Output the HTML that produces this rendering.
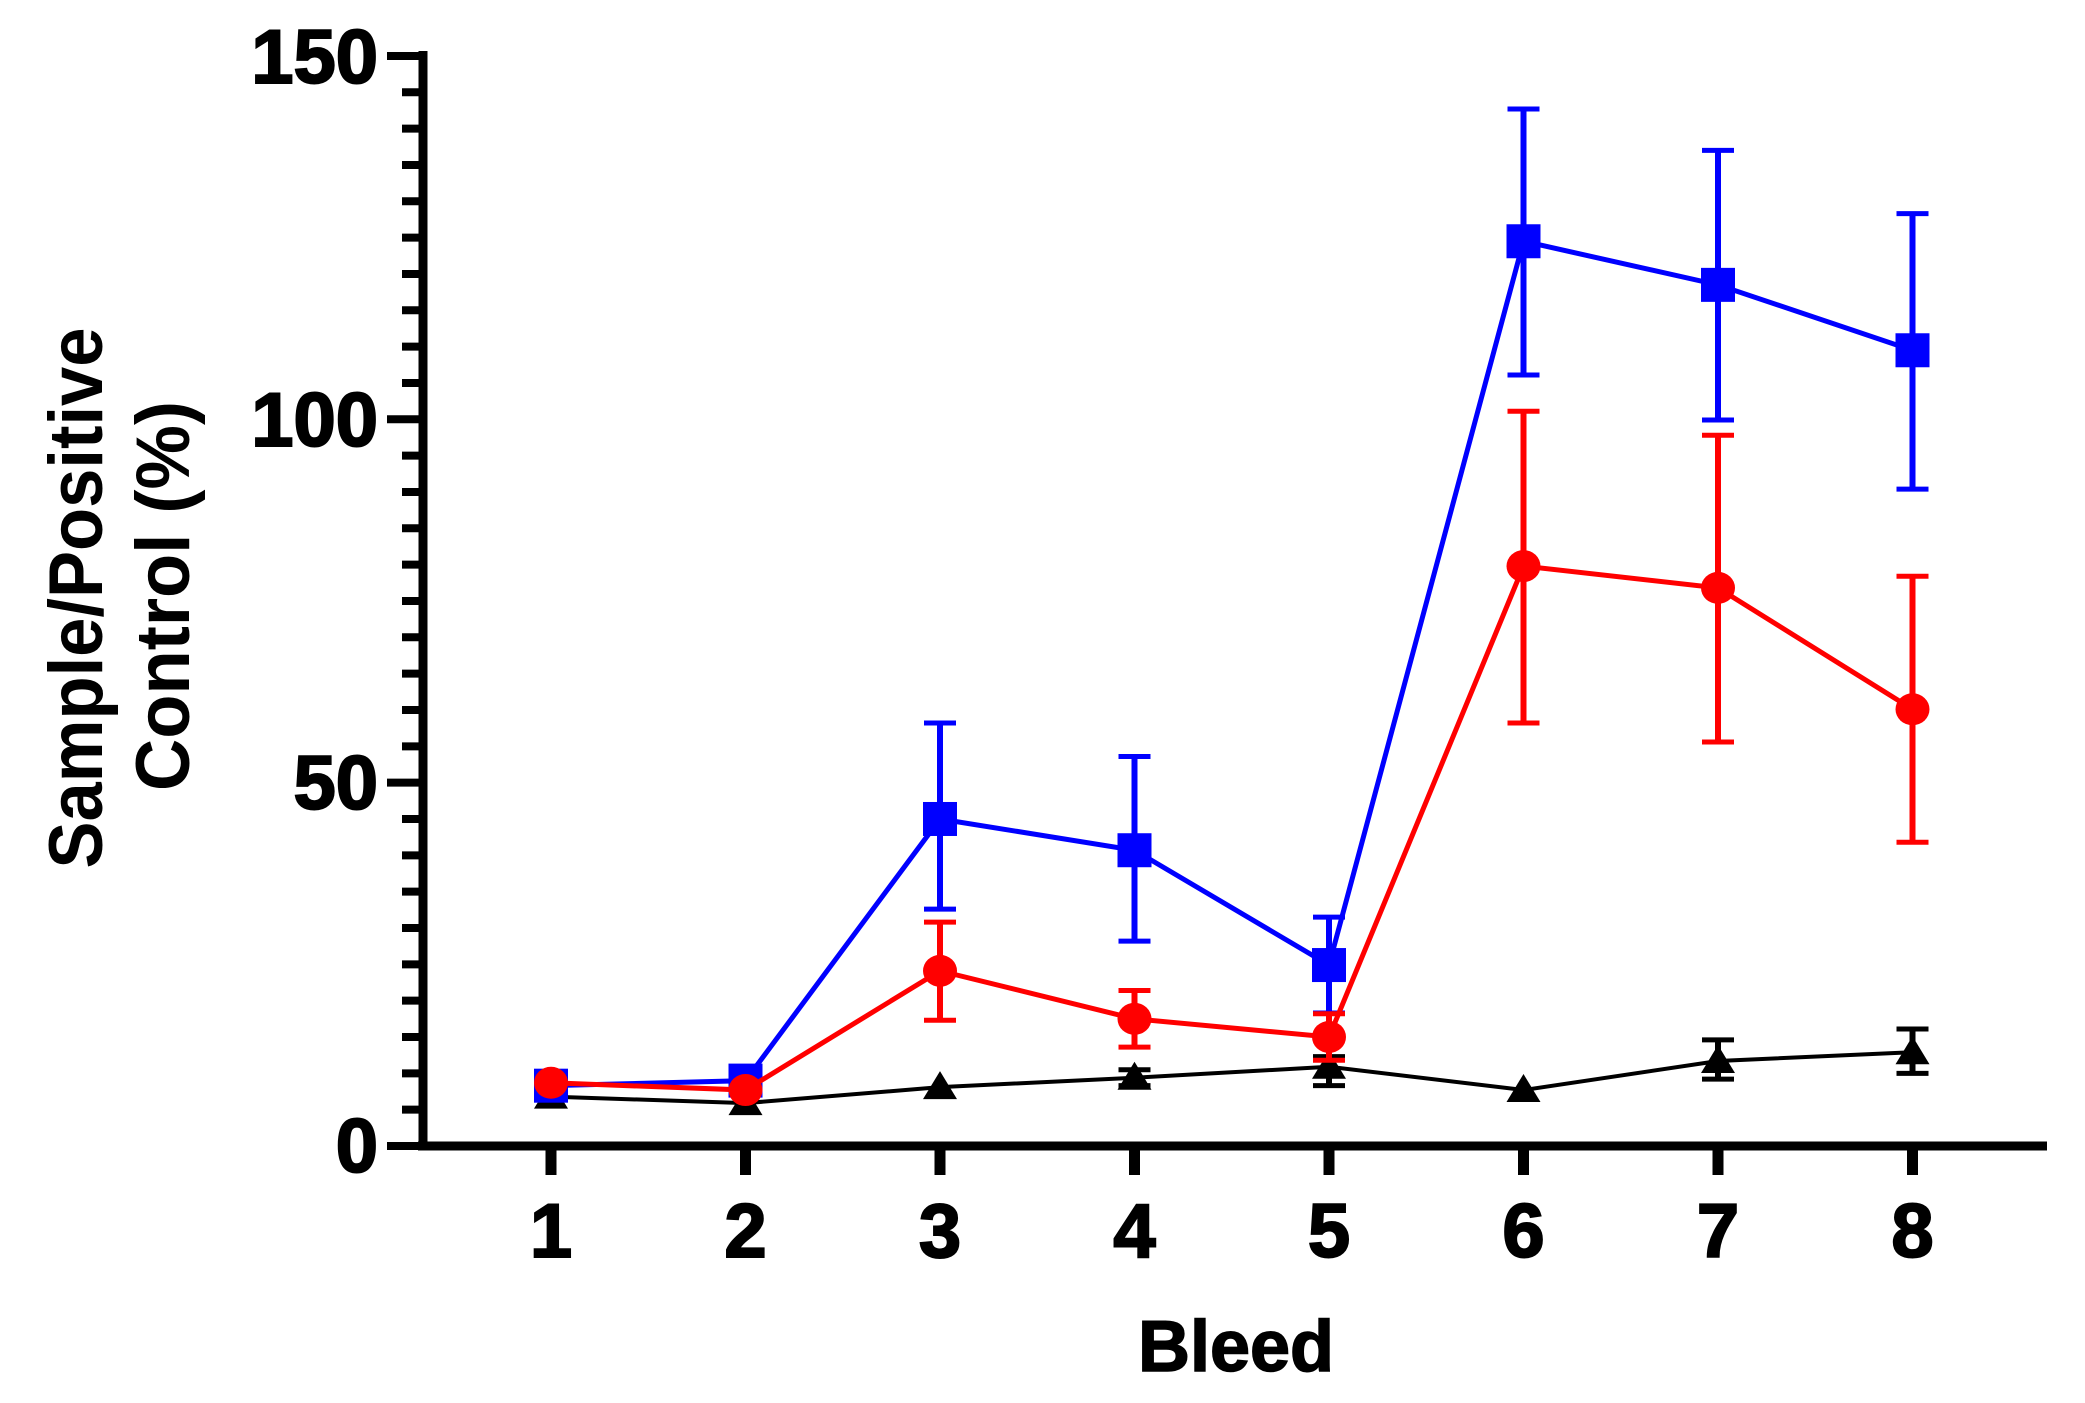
<!DOCTYPE html>
<html><head><style>html,body{margin:0;padding:0;background:#fff}</style></head>
<body>
<svg width="2085" height="1398" viewBox="0 0 2085 1398" xmlns="http://www.w3.org/2000/svg" font-family="Liberation Sans, Arial, sans-serif" font-weight="bold">
<g id="axes" stroke="#000" stroke-width="9">
<line x1="423" y1="51" x2="423" y2="1150"/>
<line x1="418" y1="1146" x2="2047" y2="1146"/>
</g>
<g stroke="#000" stroke-width="8" id="ticks"></g>
<g font-size="76" text-anchor="end" fill="#000" stroke="#000" stroke-width="2">
<text x="378" y="83">150</text>
<text x="378" y="446">100</text>
<text x="378" y="809">50</text>
<text x="378" y="1172">0</text>
</g>
<g font-size="76" text-anchor="middle" fill="#000" stroke="#000" stroke-width="2" id="xl"></g>
<text x="1236" y="1371" font-size="72" text-anchor="middle" stroke="#000" stroke-width="1.5">Bleed</text>
<text transform="translate(102,598) rotate(-90)" font-size="76" text-anchor="middle" textLength="541" lengthAdjust="spacingAndGlyphs">Sample/Positive</text>
<text transform="translate(189,596) rotate(-90)" font-size="76" text-anchor="middle" textLength="390" lengthAdjust="spacingAndGlyphs">Control (%)</text>
<g id="data"></g>
</svg>
<script>
const NS="http://www.w3.org/2000/svg";
function el(p,t,a){const e=document.createElementNS(NS,t);for(const k in a)e.setAttribute(k,a[k]);p.appendChild(e);return e;}
const X=i=>551+(i-1)*194.5, Y=v=>1146-v*7.267;
const tk=document.getElementById('ticks');
for(let v=0;v<=150;v+=5){const maj=v%50==0;el(tk,'line',{x1:maj?387:402,x2:423,y1:Y(v),y2:Y(v)});}
const xl=document.getElementById('xl');
for(let i=1;i<=8;i++){el(tk,'line',{x1:X(i),x2:X(i),y1:1146,y2:1175,'stroke-width':11});const t=el(xl,'text',{x:X(i),y:1257});t.textContent=i;}
const d=document.getElementById('data');
const S={
black:{c:'#000',v:[6.8,5.9,8.1,9.4,10.9,7.7,11.7,12.9],e:[[6.8,6.8],[5.9,5.9],[8.1,8.1],[10.5,8.3],[12.3,8.3],[7.7,7.7],[14.6,9.2],[16.1,10]],m:'tri',w:4},
blue:{c:'#0000ff',v:[8.3,9,45,40.7,24.9,124.5,118.5,109.5],e:[[8.3,8.3],[9,9],[58.2,32.6],[53.6,28.2],[31.5,18.3],[142.7,106.1],[137,99.9],[128.3,90.4]],m:'sq',w:5},
red:{c:'#ff0000',v:[8.7,7.7,24.1,17.5,15,79.8,76.8,60.1],e:[[8.7,8.7],[7.7,7.7],[30.8,17.3],[21.4,13.6],[18.2,11.8],[101.1,58.2],[97.8,55.6],[78.4,41.8]],m:'ci',w:5}
};
for(const k of ['black','blue','red']){const s=S[k];
 s.e.forEach((e,j)=>{const x=X(j+1);if(e[0]==e[1])return;
  el(d,'line',{x1:x,x2:x,y1:Y(e[0]),y2:Y(e[1]),stroke:s.c,'stroke-width':6});
  el(d,'line',{x1:x-16,x2:x+16,y1:Y(e[0]),y2:Y(e[0]),stroke:s.c,'stroke-width':5});
  el(d,'line',{x1:x-16,x2:x+16,y1:Y(e[1]),y2:Y(e[1]),stroke:s.c,'stroke-width':5});});
 el(d,'polyline',{points:s.v.map((v,j)=>X(j+1)+','+Y(v)).join(' '),fill:'none',stroke:s.c,'stroke-width':s.w});
 s.v.forEach((v,j)=>{const x=X(j+1),y=Y(v);
  if(s.m=='sq')el(d,'rect',{x:x-17,y:y-17,width:34,height:34,fill:s.c});
  else if(s.m=='ci')el(d,'ellipse',{cx:x,cy:y,rx:17,ry:16,fill:s.c});
  else el(d,'polygon',{points:`${x-17},${y+12} ${x+17},${y+12} ${x},${y-16}`,fill:s.c});});
}
</script>
</body></html>
